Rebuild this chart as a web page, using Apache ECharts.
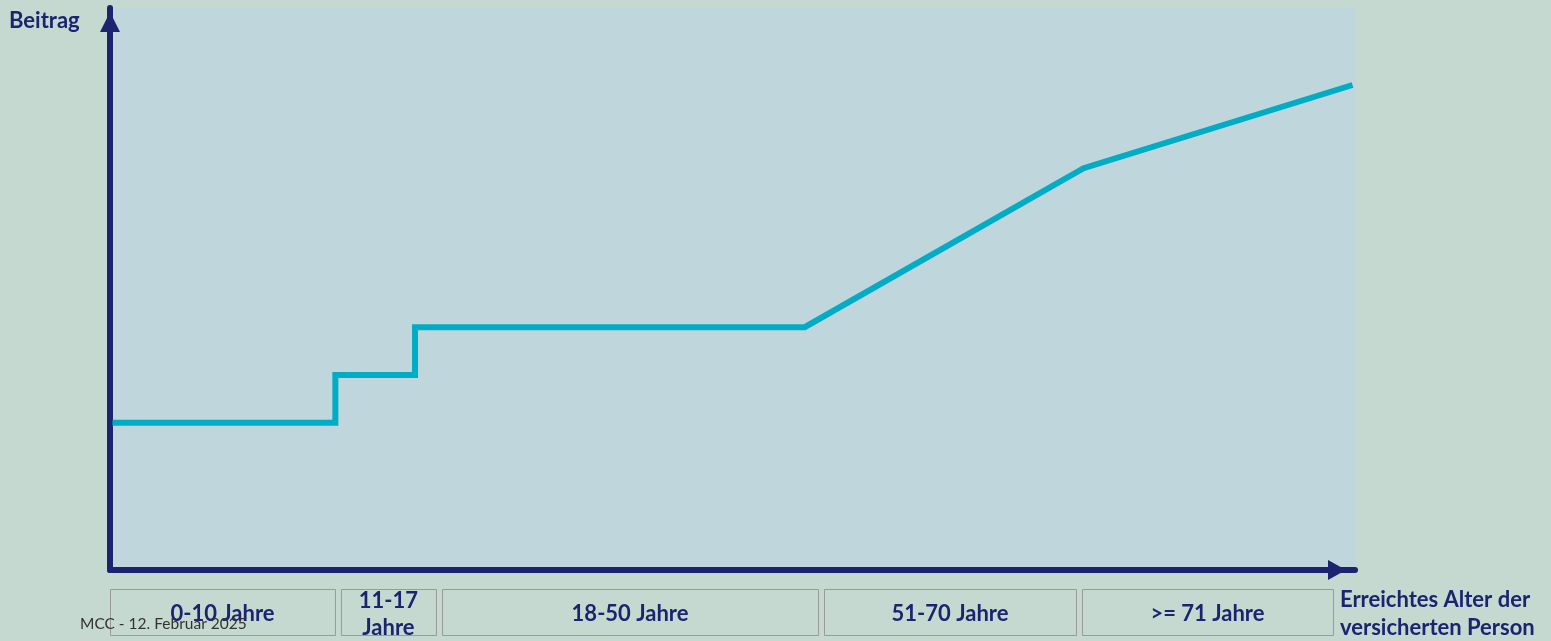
<!DOCTYPE html>
<html>
<head>
<meta charset="utf-8">
<script src="https://cdn.jsdelivr.net/npm/echarts@6/dist/echarts.min.js"></script>
<style>
  html, body { margin: 0; padding: 0; background: #c5d9d0; }
  #chart { width: 1551px; height: 641px; }
</style>
</head>
<body>
<div id="chart"></div>
<script>
  // Beitrag ueber dem Alter (x und y in relativen Einheiten 0..100)
  var ageX = [0.2, 18.1, 18.1, 24.5, 24.5, 55.8, 78.2, 99.8];
  var beitrag = [26.2, 26.2, 34.7, 34.7, 43.2, 43.2, 71.5, 86.3];

  // Altersgruppen-Kaesten unter der x-Achse
  var groupLabels = ['0-10 Jahre', '11-17\nJahre', '18-50 Jahre', '51-70 Jahre', '>= 71 Jahre'];
  var groupStart = [0, 18.55, 26.67, 57.35, 78.07];
  var groupEnd = [18.07, 26.18, 56.87, 77.59, 98.23];

  var navy = '#1c2470';
  var font = 'Lato';

  var lineData = ageX.map(function (x, i) { return [x, beitrag[i]]; });
  var boxData = groupLabels.map(function (l, i) { return [groupStart[i], groupEnd[i], l]; });

  var myChart = echarts.init(document.getElementById('chart'));
  var option = {
    backgroundColor: '#c5d9d0',
    animation: false,
    grid: [
      { left: 110, top: 8, width: 1245, height: 562, show: true, backgroundColor: '#bed6dc', borderWidth: 0 },
      { left: 110, top: 589, width: 1245, height: 46 }
    ],
    xAxis: [
      {
        type: 'value', min: 0, max: 100, gridIndex: 0,
        splitLine: { show: false }, axisTick: { show: false }, axisLabel: { show: false },
        axisLine: {
          show: true, onZero: false,
          lineStyle: { color: navy, width: 6 },
          symbol: ['none', 'triangle'], symbolSize: [20, 18], symbolOffset: [0, -18]
        }
      },
      { type: 'value', min: 0, max: 100, gridIndex: 1, show: false }
    ],
    yAxis: [
      {
        type: 'value', min: 0, max: 100, gridIndex: 0,
        splitLine: { show: false }, axisTick: { show: false }, axisLabel: { show: false },
        axisLine: {
          show: true, onZero: false,
          lineStyle: { color: navy, width: 6 },
          symbol: ['none', 'triangle'], symbolSize: [20, 20], symbolOffset: [0, -14]
        }
      },
      { type: 'value', min: 0, max: 1, gridIndex: 1, show: false }
    ],
    series: [
      {
        type: 'line',
        xAxisIndex: 0, yAxisIndex: 0,
        data: lineData,
        symbol: 'none',
        lineStyle: { color: '#00adc5', width: 6, join: 'miter', cap: 'butt' }
      },
      {
        type: 'custom',
        xAxisIndex: 1, yAxisIndex: 1,
        data: boxData,
        renderItem: function (params, api) {
          var p0 = api.coord([api.value(0), 1]);
          var p1 = api.coord([api.value(1), 0]);
          var label = boxData[params.dataIndex][2];
          return {
            type: 'group',
            children: [
              {
                type: 'rect',
                shape: { x: p0[0] + 0.5, y: p0[1] + 0.5, width: p1[0] - p0[0], height: p1[1] - p0[1] },
                style: { fill: '#c5d9d0', stroke: '#9a9a9a', lineWidth: 1 }
              },
              {
                type: 'text',
                x: (p0[0] + p1[0]) / 2, y: (p0[1] + p1[1]) / 2 + 2,
                style: {
                  text: label, fill: navy, font: 'bold 22px ' + font,
                  align: 'center', verticalAlign: 'middle', lineHeight: 27
                }
              }
            ]
          };
        }
      }
    ],
    graphic: [
      {
        type: 'text', left: 9, top: 10, z: 100,
        style: { text: 'Beitrag', fill: navy, font: 'bold 22px ' + font }
      },
      {
        type: 'text', left: 1340, top: 586, z: 100,
        style: { text: 'Erreichtes Alter der\nversicherten Person', fill: navy, font: 'bold 22px ' + font, lineHeight: 28 }
      },
      {
        type: 'text', left: 80, top: 616, z: 100,
        style: { text: 'MCC - 12. Februar 2025', fill: '#333333', font: '15.5px ' + font }
      }
    ]
  };
  myChart.setOption(option);
</script>
</body>
</html>
